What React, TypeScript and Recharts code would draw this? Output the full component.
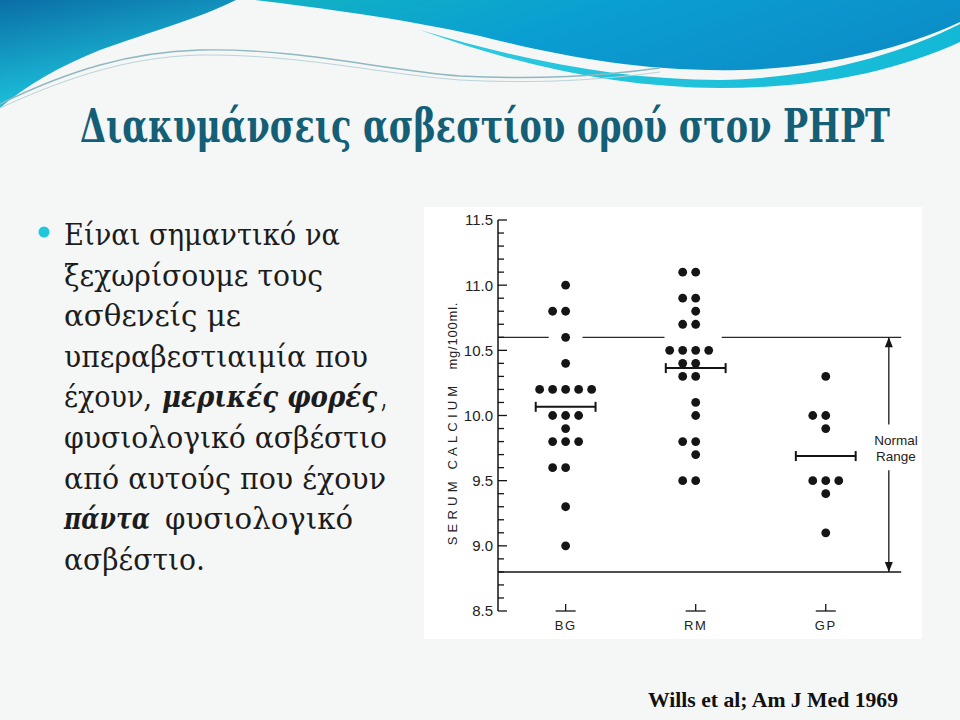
import React from 'react';
import {
  ScatterChart,
  Scatter,
  XAxis,
  YAxis,
  ReferenceLine,
  ReferenceDot,
} from 'recharts';

// ── Data (serum calcium, mg/100 ml) ───────────────────────────────────────
const CATEGORIES = ['BG', 'RM', 'GP'];
const BG_VALUES = [11.0, 10.8, 10.8, 10.6, 10.4, 10.2, 10.2, 10.2, 10.2, 10.2, 10.0, 10.0, 10.0, 9.9, 9.8, 9.8, 9.8, 9.6, 9.6, 9.3, 9.0];
const RM_VALUES = [11.1, 11.1, 10.9, 10.9, 10.8, 10.7, 10.7, 10.5, 10.5, 10.5, 10.5, 10.4, 10.4, 10.3, 10.3, 10.1, 10.0, 9.8, 9.8, 9.7, 9.5, 9.5];
const GP_VALUES = [10.3, 10.0, 10.0, 9.9, 9.5, 9.5, 9.5, 9.4, 9.1];
const NORMAL_RANGE = [8.8, 10.6];
const Y_TICKS = [8.5, 8.6, 8.7, 8.8, 8.9, 9.0, 9.1, 9.2, 9.3, 9.4, 9.5, 9.6, 9.7, 9.8, 9.9, 10.0, 10.1, 10.2, 10.3, 10.4, 10.5, 10.6, 10.7, 10.8, 10.9, 11.0, 11.1, 11.2, 11.3, 11.4, 11.5];
const Y_MAJOR = [8.5, 9.0, 9.5, 10.0, 10.5, 11.0, 11.5];

// bullet text, one entry per rendered line: [text, left, right, emphasised]
type Seg = [string, number, number, boolean?];
const BULLET_LINES: Seg[][] = [
  [['Είναι σημαντικό να', 64, 340]],
  [['ξεχωρίσουμε τους', 64, 323]],
  [['ασθενείς με', 64, 241]],
  [['υπεραβεστιαιμία που', 64, 368]],
  [['έχουν,', 64, 152], ['μερικές φορές', 162, 377, true], [',', 381, 387]],
  [['φυσιολογικό ασβέστιο', 64, 387]],
  [['από αυτούς που έχουν', 64, 386]],
  [['πάντα', 64, 150, true], ['φυσιολογικό', 165, 353]],
  [['ασβέστιο.', 64, 205]],
];

// ── layout constants ──────────────────────────────────────────────────────
const X_DOMAIN = [0.48, 3.74];
const SLOT_ORDER = [0, -1, 1, -2, 2];
const SLOT_STEP = 0.1;
const MEAN_HALF = 0.23;
const ARROW_X = 3.485;
const INK = '#151515';
const CHART_FONT = '"Liberation Sans", Arial, sans-serif';

// beeswarm: identical values are spread sideways (0, -1, +1, -2, +2 slots)
function swarm(values: number[], center: number) {
  const seen = new Map<number, number>();
  return values.map((v) => {
    const n = seen.get(v) ?? 0;
    seen.set(v, n + 1);
    return { x: center + SLOT_ORDER[n] * SLOT_STEP, y: v };
  });
}

const groups = [BG_VALUES, RM_VALUES, GP_VALUES];
const means = groups.map((g) => g.reduce((s, v) => s + v, 0) / g.length);

const Dot = (p: any) => <circle cx={p.cx} cy={p.cy} r={4.4} fill={INK} />;

const YTick = (p: any) => {
  const v = p.payload.value as number;
  const major = Y_MAJOR.some((m) => Math.abs(m - v) < 1e-6);
  return (
    <g>
      <line x1={p.x} x2={p.x + (major ? 9 : 6)} y1={p.y} y2={p.y} stroke={INK} strokeWidth={1.3} />
      {major && (
        <text x={p.x - 5} y={p.y} dy="0.36em" textAnchor="end" fontSize={15} fill="#222" fontFamily={CHART_FONT}>
          {v.toFixed(1)}
        </text>
      )}
    </g>
  );
};

const XTick = (p: any) => (
  <g>
    <line x1={p.x - 10} x2={p.x + 10} y1={p.y} y2={p.y} stroke={INK} strokeWidth={1.3} />
    <line x1={p.x} x2={p.x} y1={p.y} y2={p.y - 7} stroke={INK} strokeWidth={1.3} />
    <text x={p.x} y={p.y + 19} textAnchor="middle" fontSize={13} letterSpacing={1.5} fill="#222" fontFamily={CHART_FONT}>
      {CATEGORIES[Math.round(p.payload.value) - 1]}
    </text>
  </g>
);

const MeanBar = (p: any) => (
  <g>
    <line x1={p.x1} x2={p.x2} y1={p.y1} y2={p.y2} stroke={INK} strokeWidth={2} />
    <line x1={p.x1} x2={p.x1} y1={p.y1 - 5} y2={p.y1 + 5} stroke={INK} strokeWidth={2} />
    <line x1={p.x2} x2={p.x2} y1={p.y2 - 5} y2={p.y2 + 5} stroke={INK} strokeWidth={2} />
  </g>
);

// arrow: line with a head at (x2, y2)
const Arrow = (p: any) => {
  const dir = p.y2 > p.y1 ? 1 : -1;
  return (
    <g>
      <line x1={p.x1} x2={p.x2} y1={p.y1} y2={p.y2} stroke={INK} strokeWidth={1.3} />
      <path d={`M${p.x2},${p.y2} L${p.x2 - 4},${p.y2 - dir * 10} L${p.x2 + 4},${p.y2 - dir * 10} Z`} fill={INK} />
    </g>
  );
};

const RangeLabel = (p: any) => (
  <g fontFamily={CHART_FONT} fontSize={13.5} fill="#222" textAnchor="middle">
    <text x={p.cx} y={p.cy - 8} dy="0.35em">Normal</text>
    <text x={p.cx} y={p.cy + 8} dy="0.35em">Range</text>
  </g>
);

const YLabel = (p: any) => {
  const vb = p.viewBox;
  const cx = vb.x + 28;
  const cy = vb.y + vb.height / 2 + 8;
  return (
    <text
      transform={`rotate(-90 ${cx} ${cy})`}
      x={cx}
      y={cy}
      dy="0.35em"
      textAnchor="middle"
      fontSize={13}
      fill="#222"
      fontFamily={CHART_FONT}
    >
      <tspan letterSpacing={4.2}>SERUM  CALCIUM</tspan>
      <tspan dx={12} letterSpacing={0.8}>mg/100ml.</tspan>
    </text>
  );
};

function SlideBackground() {
  return (
    <svg width={960} height={720} style={{ position: 'absolute', left: 0, top: 0 }}>
      <defs>
        <linearGradient id="waveL" x1="0" y1="0" x2="0.4" y2="1">
          <stop offset="0" stopColor="#0a6ea6" />
          <stop offset="1" stopColor="#1fcde2" />
        </linearGradient>
        <linearGradient id="waveR" x1="0" y1="0" x2="1" y2="0.3">
          <stop offset="0" stopColor="#12b3c4" />
          <stop offset="0.5" stopColor="#0a9ed2" />
          <stop offset="1" stopColor="#0c8fc8" />
        </linearGradient>
        <linearGradient id="waveC" x1="0" y1="0" x2="1" y2="0">
          <stop offset="0" stopColor="#2dcbe0" />
          <stop offset="1" stopColor="#12b8d6" />
        </linearGradient>
      </defs>
      <rect width={960} height={720} fill="#f5f6f6" />
      <path d="M0,0 H236 C200,18 150,32 100,50 C60,66 25,86 0,108 Z" fill="url(#waveL)" />
      <path d="M420,30 C520,60 620,80 720,80 C820,78 900,54 960,24 V42 C890,74 810,88 720,88 C620,88 520,66 420,30 Z" fill="url(#waveC)" />
      <path d="M255,0 H960 V22 C900,50 820,68 740,70 C640,72 560,56 480,36 C400,18 320,8 255,0 Z" fill="url(#waveR)" />
      <path d="M0,104 C70,70 130,52 200,50 C300,48 380,70 460,76 C540,80 600,76 660,68" fill="none" stroke="#8fb8c0" strokeWidth={1.4} />
      <path d="M0,108 C70,76 130,57 200,55 C300,54 380,74 460,80 C540,84 600,80 660,72" fill="none" stroke="#b9d4d8" strokeWidth={1} />
      <text
        x={80}
        y={142}
        textLength={810}
        lengthAdjust="spacingAndGlyphs"
        fontSize={46}
        fontWeight="bold"
        fill="#145f76"
        fontFamily='"DejaVu Serif", serif'
      >
        Διακυμάνσεις ασβεστίου ορού στον PHPT
      </text>
      <circle cx={44} cy={232} r={5.5} fill="#20c6dc" />
      {BULLET_LINES.map((line, i) =>
        line.map(([t, x0, x1, em], j) => (
          <text
            key={`${i}-${j}`}
            x={x0}
            y={245 + i * 40.6}
            textLength={x1 - x0}
            lengthAdjust="spacingAndGlyphs"
            fontSize={30}
            fontWeight={em ? 'bold' : 'normal'}
            fontStyle={em ? 'italic' : 'normal'}
            fill="#1c1c1c"
            fontFamily='"DejaVu Serif", serif'
          >
            {t}
          </text>
        )),
      )}
      <text
        x={648}
        y={707}
        textLength={250}
        lengthAdjust="spacingAndGlyphs"
        fontSize={21}
        fontWeight="bold"
        fill="#111"
        fontFamily='"Liberation Serif", serif'
      >
        Wills et al; Am J Med 1969
      </text>
    </svg>
  );
}

export default function App() {
  const [low, high] = NORMAL_RANGE;
  return (
    <div style={{ position: 'absolute', left: 0, top: 0, width: 960, height: 720, overflow: 'hidden' }}>
      <SlideBackground />
      <div style={{ position: 'absolute', left: 424, top: 207, width: 498, height: 432, background: '#fff' }}>
        <ScatterChart width={498} height={432} margin={{ top: 13, right: 0, bottom: 0, left: 0 }}>
          <XAxis
            type="number"
            dataKey="x"
            domain={X_DOMAIN}
            ticks={[1, 2, 3]}
            interval={0}
            axisLine={false}
            tickLine={false}
            tickSize={0}
            tickMargin={0}
            height={28}
            tick={<XTick />}
            allowDataOverflow
          />
          <YAxis
            type="number"
            dataKey="y"
            domain={[8.5, 11.5]}
            ticks={Y_TICKS}
            interval={0}
            tickLine={false}
            tickSize={0}
            tickMargin={0}
            width={74}
            axisLine={{ stroke: INK, strokeWidth: 1.5 }}
            tick={<YTick />}
            label={{ content: <YLabel /> }}
            allowDataOverflow
          />
          {/* upper limit of normal range: broken where it crosses the dot columns */}
          {[[0.48, 0.87], [1.13, 1.76], [2.2, 3.58]].map(([a, b], i) => (
            <ReferenceLine
              key={`u${i}`}
              segment={[{ x: a, y: high }, { x: b, y: high }]}
              stroke="#2a2a2a"
              strokeWidth={1.2}
            />
          ))}
          <ReferenceLine segment={[{ x: 0.48, y: low }, { x: 3.58, y: low }]} stroke={INK} strokeWidth={1.5} />
          <ReferenceLine segment={[{ x: ARROW_X, y: 9.93 }, { x: ARROW_X, y: high }]} shape={Arrow} />
          <ReferenceLine segment={[{ x: ARROW_X, y: 9.58 }, { x: ARROW_X, y: low }]} shape={Arrow} />
          <ReferenceDot x={3.54} y={9.75} r={0} shape={RangeLabel} />
          {means.map((m, i) => (
            <ReferenceLine
              key={`m${i}`}
              segment={[{ x: i + 1 - MEAN_HALF, y: m }, { x: i + 1 + MEAN_HALF, y: m }]}
              shape={MeanBar}
            />
          ))}
          {groups.map((g, i) => (
            <Scatter key={CATEGORIES[i]} name={CATEGORIES[i]} data={swarm(g, i + 1)} shape={Dot} isAnimationActive={false} />
          ))}
        </ScatterChart>
      </div>
    </div>
  );
}
